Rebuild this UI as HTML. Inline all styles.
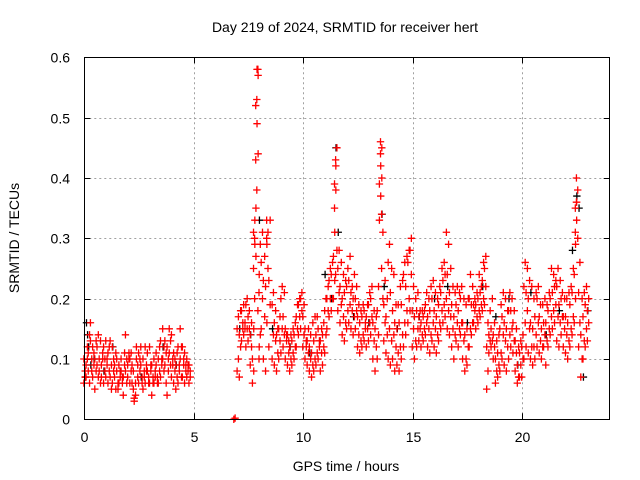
<!DOCTYPE html>
<html><head><meta charset="utf-8"><style>
html,body{margin:0;padding:0;background:#fff;}
svg{display:block;font-family:"Liberation Sans",sans-serif;}
</style></head><body>
<svg id="chart" width="640" height="480" viewBox="0 0 640 480">
<rect width="640" height="480" fill="#fff"/>
<text x="345" y="32" font-size="14" text-anchor="middle" fill="#000">Day 219 of 2024, SRMTID for receiver hert</text>
<text x="346" y="471" font-size="14" text-anchor="middle" fill="#000">GPS time / hours</text>
<text transform="translate(19,238) rotate(-90)" font-size="14" text-anchor="middle" fill="#000">SRMTID / TECUs</text>
<g id="grid"></g>
<g id="ticks"></g>
<g id="black"></g>
<g id="red"></g>
<rect x="84.5" y="57.5" width="525" height="362" fill="none" stroke="#000" stroke-width="1"/>
</svg>
<script>
const xTicks=[0,5,10,15,20];
const yTicks=[0,0.1,0.2,0.3,0.4,0.5,0.6];
const yTickLabels=["0","0.1","0.2","0.3","0.4","0.5","0.6"];
// red series: [hour, [values...]]
const redGroups=[
[0.0,[0.06,0.08,0.1,0.07]],[0.1,[0.09,0.12,0.07,0.1]],[0.2,[0.11,0.14,0.08,0.06]],[0.3,[0.16,0.1,0.13,0.08]],[0.4,[0.12,0.09,0.07,0.11]],
[0.5,[0.05,0.13,0.1,0.08]],[0.6,[0.12,0.14,0.09,0.07]],[0.7,[0.1,0.13,0.08,0.06]],[0.8,[0.09,0.11,0.07,0.1]],[0.9,[0.12,0.08,0.06,0.1]],
[1.0,[0.13,0.1,0.07,0.09]],[1.1,[0.11,0.12,0.06,0.08]],[1.2,[0.13,0.09,0.07,0.05]],[1.3,[0.12,0.08,0.06,0.1]],[1.4,[0.07,0.05,0.09,0.11]],
[1.5,[0.1,0.06,0.08,0.05]],[1.6,[0.09,0.07,0.06,0.08]],[1.7,[0.08,0.06,0.1,0.07]],[1.8,[0.04,0.09,0.07,0.11]],[1.9,[0.14,0.1,0.08,0.06]],
[2.0,[0.09,0.11,0.07,0.1]],[2.1,[0.1,0.08,0.06,0.11]],[2.2,[0.06,0.05,0.09,0.08]],[2.3,[0.03,0.04,0.035,0.06]],[2.4,[0.1,0.07,0.12,0.09]],
[2.5,[0.11,0.08,0.06,0.1]],[2.6,[0.09,0.07,0.12,0.06]],[2.7,[0.1,0.08,0.05,0.07]],[2.8,[0.12,0.09,0.06,0.08]],[2.9,[0.11,0.07,0.08,0.06]],
[3.0,[0.12,0.09,0.06,0.08]],[3.1,[0.04,0.07,0.09,0.06]],[3.2,[0.1,0.08,0.06,0.07]],[3.3,[0.09,0.07,0.11,0.06]],[3.4,[0.1,0.08,0.06,0.12]],
[3.5,[0.13,0.09,0.07,0.1]],[3.6,[0.15,0.12,0.1,0.08]],[3.7,[0.13,0.11,0.09,0.06]],[3.8,[0.04,0.1,0.12,0.08]],[3.9,[0.15,0.13,0.11,0.09]],
[4.0,[0.14,0.1,0.07,0.09]],[4.1,[0.11,0.08,0.06,0.1]],[4.2,[0.09,0.07,0.05,0.11]],[4.3,[0.12,0.09,0.06,0.08]],[4.4,[0.15,0.12,0.1,0.07]],
[4.5,[0.12,0.09,0.07,0.1]],[4.6,[0.11,0.08,0.06,0.09]],[4.7,[0.1,0.08,0.07,0.09]],[4.8,[0.09,0.07,0.06,0.08]],
[6.85,[0.0,0.002]],
[7.0,[0.08,0.1,0.15,0.17]],[7.1,[0.07,0.12,0.14,0.18]],[7.2,[0.13,0.15,0.18,0.16]],[7.3,[0.14,0.16,0.19,0.15]],[7.4,[0.12,0.15,0.19,0.2]],
[7.5,[0.13,0.15,0.17,0.18]],[7.6,[0.09,0.12,0.14,0.16]],[7.7,[0.06,0.08,0.1,0.15]],[7.75,[0.25,0.29,0.31,0.33]],[7.8,[0.2,0.27,0.3,0.35]],
[7.85,[0.43,0.49,0.52,0.58]],[7.9,[0.38,0.44,0.53,0.57]],[7.95,[0.58,0.12,0.18,0.24]],[8.0,[0.1,0.14,0.21,0.29]],[8.1,[0.15,0.2,0.26,0.31]],
[8.2,[0.1,0.17,0.23,0.27]],[8.3,[0.08,0.16,0.22,0.29]],[8.35,[0.33,0.31,0.3,0.25]],[8.45,[0.12,0.19,0.23,0.33]],[8.6,[0.1,0.14,0.19,0.21]],
[8.7,[0.09,0.13,0.16,0.18]],[8.8,[0.08,0.11,0.14,0.15]],[8.9,[0.1,0.13,0.15,0.17]],[9.0,[0.11,0.15,0.2,0.22]],[9.1,[0.12,0.14,0.17,0.21]],
[9.2,[0.1,0.13,0.15,0.14]],[9.3,[0.09,0.11,0.14,0.13]],[9.4,[0.08,0.1,0.12,0.14]],[9.5,[0.09,0.11,0.13,0.15]],[9.6,[0.1,0.12,0.14,0.16]],
[9.7,[0.12,0.15,0.17,0.19]],[9.8,[0.14,0.17,0.19,0.2]],[9.9,[0.15,0.18,0.2,0.21]],[10.0,[0.12,0.14,0.17,0.19]],[10.1,[0.1,0.12,0.15,0.13]],
[10.2,[0.09,0.11,0.13,0.15]],[10.3,[0.08,0.1,0.12,0.14]],[10.4,[0.07,0.09,0.11,0.16]],[10.5,[0.08,0.1,0.13,0.17]],[10.6,[0.09,0.11,0.14,0.17]],
[10.7,[0.1,0.12,0.15,0.13]],[10.8,[0.08,0.11,0.13,0.15]],[10.9,[0.09,0.12,0.14,0.16]],[11.0,[0.11,0.14,0.18,0.2]],[11.1,[0.15,0.18,0.2,0.22]],
[11.2,[0.17,0.2,0.23,0.25]],[11.3,[0.18,0.2,0.24,0.26]],[11.4,[0.2,0.23,0.27,0.31]],[11.45,[0.35,0.38,0.39,0.42]],[11.5,[0.43,0.45,0.24,0.28]],
[11.6,[0.18,0.21,0.25,0.28]],[11.7,[0.16,0.19,0.22,0.26]],[11.8,[0.14,0.17,0.2,0.24]],[11.9,[0.13,0.16,0.21,0.23]],[12.0,[0.15,0.18,0.22,0.25]],
[12.1,[0.16,0.19,0.23,0.27]],[12.2,[0.15,0.18,0.21,0.22]],[12.3,[0.14,0.17,0.2,0.24]],[12.4,[0.15,0.18,0.2,0.22]],[12.5,[0.12,0.14,0.17,0.19]],
[12.6,[0.11,0.13,0.16,0.18]],[12.7,[0.12,0.14,0.17,0.19]],[12.8,[0.13,0.15,0.18,0.16]],[12.9,[0.12,0.15,0.17,0.19]],[13.0,[0.13,0.16,0.19,0.21]],
[13.1,[0.14,0.17,0.2,0.22]],[13.2,[0.1,0.13,0.16,0.18]],[13.3,[0.08,0.12,0.15,0.17]],[13.4,[0.1,0.14,0.18,0.22]],[13.5,[0.33,0.37,0.39,0.42]],
[13.55,[0.44,0.45,0.46,0.4]],[13.6,[0.34,0.31,0.25,0.2]],[13.7,[0.13,0.16,0.19,0.23]],[13.8,[0.11,0.14,0.17,0.2]],[13.9,[0.1,0.15,0.26,0.29]],
[14.0,[0.09,0.13,0.21,0.25]],[14.1,[0.1,0.14,0.18,0.24]],[14.2,[0.08,0.12,0.16,0.19]],[14.3,[0.09,0.11,0.15,0.19]],[14.4,[0.08,0.12,0.16,0.22]],
[14.5,[0.1,0.14,0.19,0.23]],[14.6,[0.12,0.16,0.24,0.26]],[14.7,[0.14,0.18,0.22,0.27]],[14.8,[0.16,0.2,0.26,0.28]],[14.9,[0.18,0.24,0.28,0.3]],
[15.0,[0.12,0.15,0.18,0.22]],[15.1,[0.1,0.13,0.17,0.2]],[15.2,[0.12,0.15,0.18,0.21]],[15.3,[0.13,0.15,0.17,0.18]],[15.4,[0.12,0.14,0.16,0.18]],
[15.5,[0.13,0.15,0.17,0.18]],[15.6,[0.14,0.16,0.19,0.21]],[15.7,[0.12,0.15,0.17,0.2]],[15.8,[0.11,0.14,0.18,0.22]],[15.9,[0.13,0.16,0.2,0.23]],
[16.0,[0.12,0.15,0.18,0.21]],[16.1,[0.11,0.14,0.17,0.2]],[16.2,[0.13,0.16,0.19,0.22]],[16.3,[0.15,0.18,0.21,0.25]],[16.4,[0.16,0.19,0.23,0.26]],
[16.5,[0.17,0.2,0.24,0.31]],[16.6,[0.15,0.18,0.24,0.29]],[16.7,[0.14,0.17,0.21,0.25]],[16.8,[0.12,0.15,0.19,0.22]],[16.9,[0.1,0.14,0.17,0.21]],
[17.0,[0.13,0.16,0.19,0.22]],[17.1,[0.12,0.15,0.18,0.21]],[17.2,[0.14,0.16,0.2,0.22]],[17.3,[0.1,0.13,0.16,0.2]],[17.4,[0.08,0.1,0.14,0.19]],
[17.5,[0.09,0.12,0.15,0.2]],[17.6,[0.12,0.15,0.2,0.24]],[17.7,[0.14,0.16,0.19,0.22]],[17.8,[0.16,0.18,0.19,0.2]],[17.9,[0.15,0.17,0.19,0.21]],
[18.0,[0.16,0.18,0.2,0.24]],[18.1,[0.17,0.19,0.21,0.22]],[18.2,[0.18,0.2,0.23,0.26]],[18.3,[0.19,0.22,0.25,0.27]],[18.4,[0.05,0.08,0.12,0.16]],
[18.5,[0.11,0.13,0.14,0.18]],[18.6,[0.12,0.13,0.15,0.2]],[18.7,[0.1,0.12,0.14,0.16]],[18.8,[0.06,0.08,0.1,0.13]],[18.9,[0.07,0.09,0.11,0.14]],
[19.0,[0.08,0.11,0.15,0.19]],[19.1,[0.1,0.14,0.17,0.21]],[19.2,[0.09,0.13,0.16,0.2]],[19.3,[0.08,0.12,0.15,0.18]],[19.4,[0.1,0.14,0.18,0.21]],
[19.5,[0.12,0.15,0.18,0.2]],[19.6,[0.11,0.13,0.16,0.18]],[19.7,[0.08,0.11,0.13,0.15]],[19.8,[0.06,0.07,0.09,0.12]],[19.9,[0.07,0.09,0.11,0.13]],
[20.0,[0.07,0.1,0.12,0.14]],[20.1,[0.1,0.16,0.22,0.26]],[20.2,[0.12,0.18,0.21,0.25]],[20.3,[0.11,0.15,0.2,0.23]],[20.4,[0.1,0.12,0.16,0.22]],
[20.5,[0.09,0.12,0.15,0.2]],[20.6,[0.1,0.14,0.17,0.21]],[20.7,[0.12,0.16,0.2,0.22]],[20.8,[0.11,0.13,0.17,0.19]],[20.9,[0.1,0.12,0.15,0.19]],
[21.0,[0.12,0.14,0.16,0.2]],[21.1,[0.09,0.13,0.16,0.19]],[21.2,[0.12,0.15,0.18,0.21]],[21.3,[0.14,0.17,0.2,0.25]],[21.4,[0.15,0.18,0.21,0.24]],
[21.5,[0.16,0.19,0.22,0.23]],[21.6,[0.13,0.17,0.22,0.25]],[21.7,[0.12,0.16,0.19,0.23]],[21.8,[0.14,0.17,0.2,0.21]],[21.9,[0.12,0.15,0.17,0.2]],
[22.0,[0.11,0.14,0.17,0.2]],[22.1,[0.1,0.13,0.16,0.21]],[22.2,[0.12,0.15,0.19,0.22]],[22.3,[0.14,0.17,0.21,0.25]],[22.4,[0.16,0.2,0.24,0.29]],
[22.45,[0.31,0.33,0.35,0.36]],[22.5,[0.4,0.38,0.36,0.3]],[22.6,[0.12,0.16,0.21,0.26]],[22.7,[0.07,0.1,0.14,0.2]],[22.8,[0.1,0.13,0.17,0.21]],
[22.9,[0.12,0.15,0.19,0.22]],[23.0,[0.13,0.16,0.18,0.2]]
];
// black series: [hour, value]
const blackT=[0.05,0.1,0.15,0.2,0.3,0.45,0.9,1.3,2.6,3.6,4.2,7.1,7.6,8.0,8.6,9.4,10.3,11.0,11.3,11.5,11.6,12.3,13.0,13.6,13.7,14.3,15.3,16.0,16.6,17.5,18.2,18.8,19.4,19.8,20.4,21.1,21.7,22.3,22.5,22.6,22.8,23.0];
const blackV=[0.07,0.16,0.14,0.12,0.09,0.1,0.08,0.12,0.07,0.12,0.09,0.15,0.14,0.33,0.15,0.12,0.11,0.24,0.2,0.45,0.31,0.17,0.16,0.34,0.22,0.15,0.17,0.2,0.22,0.16,0.22,0.17,0.2,0.09,0.21,0.14,0.18,0.28,0.37,0.35,0.07,0.18];

const NS='http://www.w3.org/2000/svg';
const X0=84.3,X1=609.7,Y0=419.3,Y1=57.3,XMAX=24,YMAX=0.6;
function xs(t){return X0+(t/XMAX)*(X1-X0);}
function ys(v){return Y0-(v/YMAX)*(Y0-Y1);}
function mk(tag,attrs,parent){const e=document.createElementNS(NS,tag);for(const k in attrs)e.setAttribute(k,attrs[k]);parent.appendChild(e);return e;}
const grid=document.getElementById('grid'),ticks=document.getElementById('ticks');
xTicks.forEach(t=>{
  const x=Math.round(xs(t))+0.5;
  if(t>0){const g=mk('line',{x1:x,x2:x,y1:Y1,y2:Y0,stroke:'#a0a0a0','stroke-dasharray':'2,3'},grid);
  
  }
  mk('line',{x1:x,x2:x,y1:Y0,y2:Y0-6,stroke:'#000'},ticks);
  mk('line',{x1:x,x2:x,y1:Y1,y2:Y1+6,stroke:'#000'},ticks);
  const l=mk('text',{x:x,y:442,'font-size':14,'text-anchor':'middle',fill:'#000'},ticks);
  l.textContent=String(t);
  
  
});
yTicks.forEach((v,i)=>{
  const y=Math.round(ys(v))+0.5;
  if(v>0&&v<0.6){const g=mk('line',{x1:X0,x2:X1,y1:y,y2:y,stroke:'#a0a0a0','stroke-dasharray':'2,3'},grid);
  
  }
  mk('line',{x1:X0,x2:X0+6,y1:y,y2:y,stroke:'#000'},ticks);
  mk('line',{x1:X1,x2:X1-6,y1:y,y2:y,stroke:'#000'},ticks);
  const l=mk('text',{x:70,y:y+5,'font-size':14,'text-anchor':'end',fill:'#000'},ticks);
  l.textContent=yTickLabels[i];
  
  
});
function plus(parent,t,v,color){
  const x=xs(t),y=ys(v);
  const p=mk('path',{d:`M${x-3.7},${y}h7.4M${x},${y-3.7}v7.4`,stroke:color,'stroke-width':1.3,fill:'none'},parent);
  
  
}
const blk=document.getElementById('black'),red=document.getElementById('red');
blackT.forEach((t,i)=>plus(blk,t,blackV[i],'#000'));
redGroups.forEach(g=>{
  const t=g[0],vals=g[1];
  vals.forEach((v,j)=>plus(red,t+(j%2?0.04:-0.02),v,'#ff0000'));
});
</script>
</body></html>
